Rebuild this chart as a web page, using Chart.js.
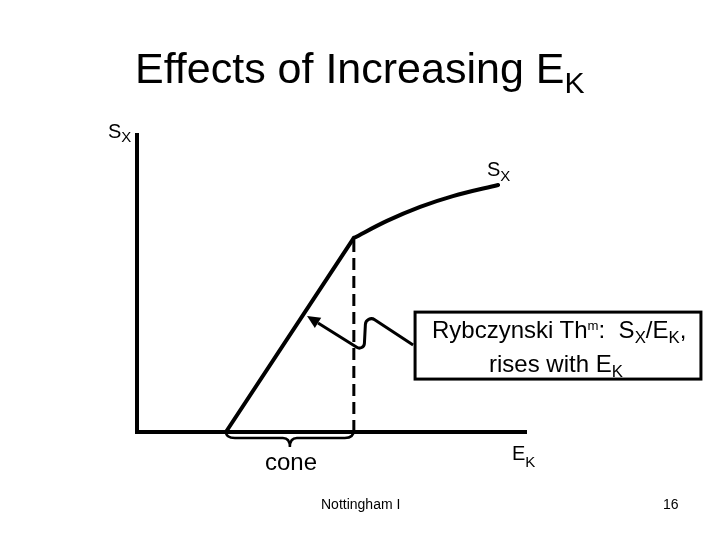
<!DOCTYPE html>
<html><head><meta charset="utf-8">
<script src="https://cdn.jsdelivr.net/npm/chart.js@4/dist/chart.umd.min.js"></script>
<style>
html,body{margin:0;padding:0;background:#fff;}
#wrap{position:relative;width:720px;height:540px;overflow:hidden;font-family:"Liberation Sans",Arial,sans-serif;color:#000;font-variant-ligatures:none;font-feature-settings:"liga" 0;}
canvas{position:absolute;left:0;top:0;}
.t{position:absolute;white-space:nowrap;line-height:1;}
.sb{position:relative;}
</style></head><body>
<div id="wrap"><canvas id="c" width="720" height="540"></canvas></div>
<script>
// ---- data (in axis units 0..100) ----
const axisX   = [0, 0, 100];
const axisY   = [100, 0, 0];
const lineX   = [22.8, 55.6];            // straight part (inside the cone)
const lineY   = [0, 64.9];
const curveX  = [55.6, 64.1, 72.6, 81.0, 92.6];   // curved part after the kink
const curveY  = [64.9, 70.6, 75.3, 78.9, 82.6];
const dashX   = [55.6, 55.6];
const dashY   = [0, 64.9];
const coneRange = [22.8, 55.6];
// callout annotation anchors (axis units)
const calloutX = [71.3, 144.6];
const calloutY = [17.7, 40.1];
const arrowX = [70.8, 58.7, 58.2, 43.6];
const arrowY = [29.1, 39.5, 26.8, 38.8];

const pts = (xs, ys) => xs.map((v, i) => ({x: v, y: ys[i]}));

const decor = {
  id: 'decor',
  afterDatasetsDraw(chart) {
    const {ctx, scales: {x, y}} = chart;
    ctx.save();
    ctx.strokeStyle = '#000';
    ctx.fillStyle = '#000';
    // brace under the cone
    const b0 = x.getPixelForValue(coneRange[0]), b1 = x.getPixelForValue(coneRange[1]);
    const by = y.getPixelForValue(0);
    const mid = (b0 + b1) / 2, h = 6, d = 15, r = 9;
    ctx.lineWidth = 2.5;
    ctx.beginPath();
    ctx.moveTo(b0, by);
    ctx.quadraticCurveTo(b0, by + h, b0 + r, by + h);
    ctx.lineTo(mid - 7, by + h);
    ctx.quadraticCurveTo(mid, by + h, mid, by + d);
    ctx.quadraticCurveTo(mid, by + h, mid + 7, by + h);
    ctx.lineTo(b1 - r, by + h);
    ctx.quadraticCurveTo(b1, by + h, b1, by - 2);
    ctx.stroke();
    // callout box
    const cx0 = x.getPixelForValue(calloutX[0]), cx1 = x.getPixelForValue(calloutX[1]);
    const cy0 = y.getPixelForValue(calloutY[1]), cy1 = y.getPixelForValue(calloutY[0]);
    ctx.lineWidth = 3;
    ctx.fillStyle = '#fff';
    ctx.fillRect(cx0, cy0, cx1 - cx0, cy1 - cy0);
    ctx.strokeRect(cx0, cy0, cx1 - cx0, cy1 - cy0);
    // zig-zag arrow
    const P = arrowX.map((v, i) => [x.getPixelForValue(v), y.getPixelForValue(arrowY[i])]);
    const D = P[3], C = P[2];
    const ang = Math.atan2(D[1] - C[1], D[0] - C[0]);
    const L = 13, W = 6;
    const base = [D[0] - L * Math.cos(ang), D[1] - L * Math.sin(ang)];
    ctx.lineWidth = 3;
    ctx.lineJoin = 'round';
    ctx.beginPath();
    ctx.moveTo(P[0][0], P[0][1]);
    ctx.arcTo(P[1][0], P[1][1], P[2][0], P[2][1], 6);
    ctx.arcTo(P[2][0], P[2][1], base[0], base[1], 5);
    ctx.lineTo(base[0], base[1]);
    ctx.stroke();
    ctx.fillStyle = '#000';
    ctx.beginPath();
    ctx.moveTo(D[0], D[1]);
    ctx.lineTo(base[0] + W * Math.sin(ang), base[1] - W * Math.cos(ang));
    ctx.lineTo(base[0] - W * Math.sin(ang), base[1] + W * Math.cos(ang));
    ctx.closePath();
    ctx.fill();
    ctx.restore();
  }
};

new Chart(document.getElementById('c'), {
  type: 'scatter',
  data: {datasets: [
    {data: pts(axisX, axisY), showLine: true, borderColor: '#000', borderWidth: 4, pointRadius: 0, clip: false, borderJoinStyle: 'miter'},
    {data: pts(lineX, lineY), showLine: true, borderColor: '#000', borderWidth: 4, pointRadius: 0, clip: false, borderCapStyle: 'round'},
    {data: pts(curveX, curveY), showLine: true, borderColor: '#000', borderWidth: 4, pointRadius: 0, clip: false, borderCapStyle: 'round', cubicInterpolationMode: 'monotone'},
    {data: pts(dashX, dashY), showLine: true, borderColor: '#000', borderWidth: 3, pointRadius: 0, clip: false, borderDash: [12, 6]}
  ]},
  options: {
    responsive: false, animation: false, devicePixelRatio: 1, events: [],
    layout: {padding: {left: 137, right: 193, top: 133, bottom: 108}},
    scales: {
      x: {type: 'linear', min: 0, max: 100, display: false},
      y: {type: 'linear', min: 0, max: 100, display: false}
    },
    plugins: {legend: {display: false}, tooltip: {enabled: false}, title: {display: false}}
  },
  plugins: [decor]
});

// ---- text labels (real DOM text) ----
const wrap = document.getElementById('wrap');
function label(html, x, baseline, fs, align) {
  const el = document.createElement('div');
  el.className = 't';
  el.style.fontSize = fs + 'px';
  el.style.top = (baseline - 0.8466 * fs) + 'px';
  el.innerHTML = html;
  wrap.appendChild(el);
  if (align === 'center') { el.style.left = (x - el.offsetWidth / 2) + 'px'; }
  else { el.style.left = x + 'px'; }
}
const sub = (t, s, dy) => `<span class="sb" style="font-size:${s}em;top:${dy}px">${t}</span>`;
label('Effects of Increasing E' + sub('K', 0.7, 10), 135, 83, 43);
label('S' + sub('X', 0.75, 4), 108, 138, 20);
label('S' + sub('X', 0.75, 5), 487, 176, 20);
label('E' + sub('K', 0.75, 7), 512, 460, 20);
label('cone', 265, 470, 24);
label('Rybczynski Th' + sub('m', 0.55, -8) + ':&nbsp; S' + sub('X', 0.7, 5) + '/E' + sub('K', 0.7, 5) + ',', 559, 338, 24, 'center');
label('rises with E' + sub('K', 0.7, 5), 556, 372, 24, 'center');
label('Nottingham I', 321, 509, 14);
label('16', 663, 509, 14);
</script>
</body></html>
